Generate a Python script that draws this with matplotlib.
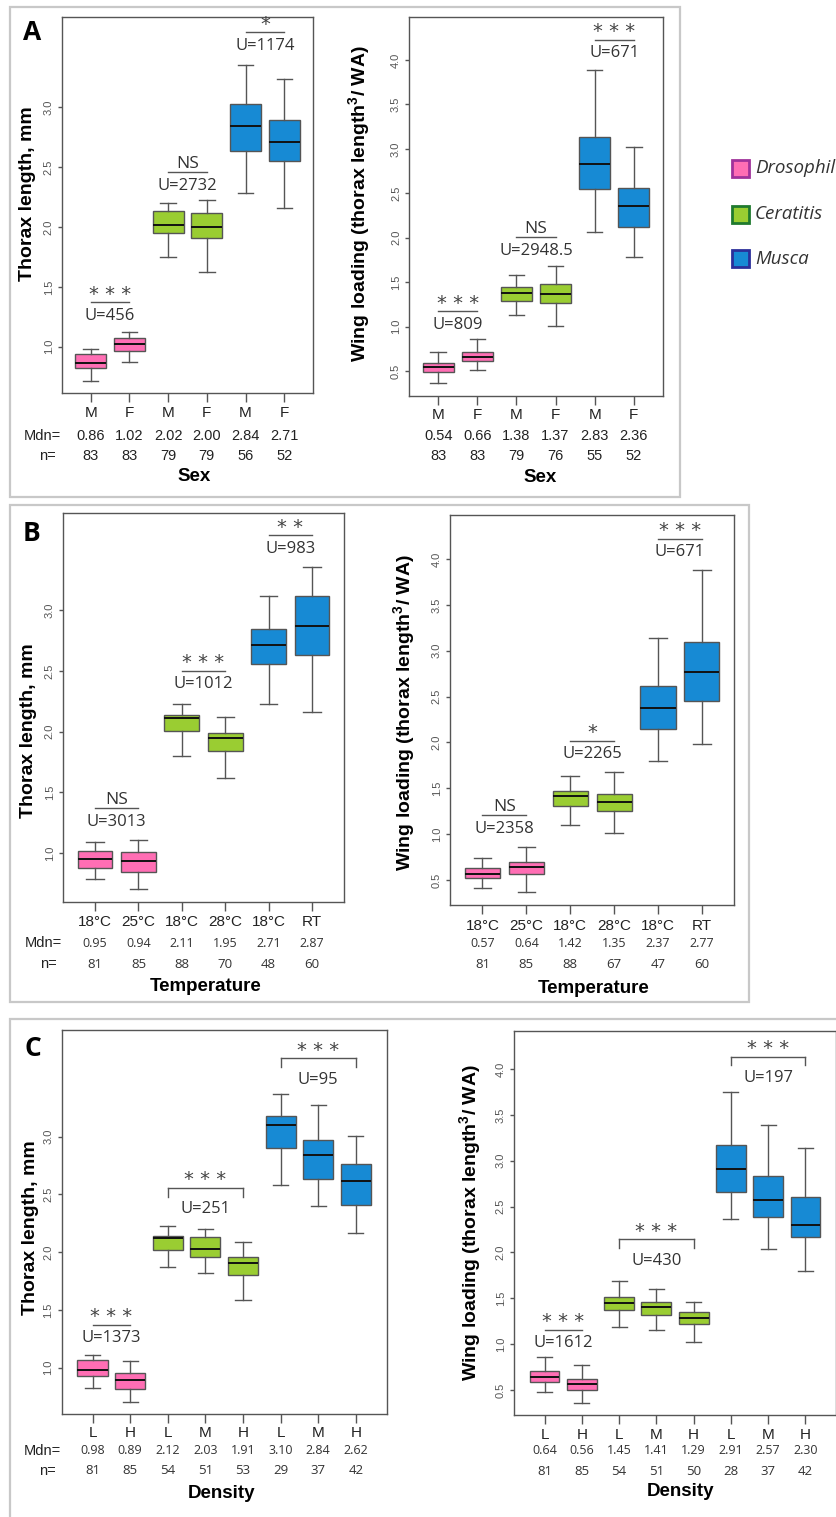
import matplotlib
matplotlib.use('Agg')
import matplotlib.pyplot as plt
from matplotlib.patches import Rectangle

plt.rcParams['font.family'] = ['Liberation Sans', 'DejaVu Sans']
plt.rcParams['mathtext.fontset'] = 'custom'
plt.rcParams['mathtext.rm'] = 'Liberation Sans'
plt.rcParams['mathtext.bf'] = 'Liberation Sans:bold'

W, H = 837, 1517

# colours
PINK, GREEN, BLUE = '#ff6eb4', '#9acd32', '#178ad4'
EDGE = '#555555'
SPECIES = ['Drosophila', 'Ceratitis', 'Musca']
SP_FILL = [PINK, GREEN, BLUE]
SP_EDGE = ['#a0329b', '#1f7a2e', '#2b2f9a']

# ---------------- data ----------------
# A: sex
sex_labels = ['M', 'F', 'M', 'F', 'M', 'F']
sex_groups = [0, 0, 1, 1, 2, 2]

A_tl_lo = [0.71, 0.875, 1.745, 1.62, 2.28, 2.16]
A_tl_q1 = [0.82, 0.967, 1.952, 1.911, 2.635, 2.551]
A_tl_med = [0.86, 1.02, 2.02, 2.00, 2.84, 2.71]
A_tl_q3 = [0.94, 1.07, 2.134, 2.114, 3.028, 2.897]
A_tl_hi = [0.978, 1.12, 2.198, 2.226, 3.353, 3.239]
A_tl_n = [83, 83, 79, 79, 56, 52]

A_wl_lo = [0.37, 0.513, 1.128, 1.011, 2.069, 1.787]
A_wl_q1 = [0.494, 0.617, 1.293, 1.263, 2.549, 2.125]
A_wl_med = [0.54, 0.66, 1.38, 1.37, 2.83, 2.36]
A_wl_q3 = [0.588, 0.719, 1.45, 1.477, 3.137, 2.564]
A_wl_hi = [0.719, 0.862, 1.582, 1.686, 3.888, 3.025]
A_wl_n = [83, 83, 79, 76, 55, 52]

# B: temperature
temp_labels = ['18°C', '25°C', '18°C', '28°C', '18°C', 'RT']
temp_groups = [0, 0, 1, 1, 2, 2]

B_tl_lo = [0.787, 0.705, 1.80, 1.617, 2.225, 2.162]
B_tl_q1 = [0.883, 0.845, 2.003, 1.844, 2.556, 2.63]
B_tl_med = [0.95, 0.94, 2.11, 1.95, 2.71, 2.87]
B_tl_q3 = [1.022, 1.009, 2.14, 1.992, 2.846, 3.115]
B_tl_hi = [1.096, 1.11, 2.225, 2.123, 3.118, 3.351]
B_tl_n = [81, 85, 88, 70, 48, 60]

B_wl_lo = [0.408, 0.371, 1.099, 1.015, 1.798, 1.98]
B_wl_q1 = [0.517, 0.564, 1.31, 1.255, 2.147, 2.453]
B_wl_med = [0.57, 0.64, 1.42, 1.35, 2.37, 2.77]
B_wl_q3 = [0.633, 0.699, 1.474, 1.438, 2.617, 3.09]
B_wl_hi = [0.736, 0.862, 1.638, 1.681, 3.144, 3.883]
B_wl_n = [81, 85, 88, 67, 47, 60]

# C: density
dens_labels = ['L', 'H', 'L', 'M', 'H', 'L', 'M', 'H']
dens_groups = [0, 0, 1, 1, 1, 2, 2, 2]

C_tl_lo = [0.822, 0.706, 1.875, 1.823, 1.586, 2.582, 2.40, 2.164]
C_tl_q1 = [0.931, 0.813, 2.022, 1.956, 1.80, 2.905, 2.631, 2.406]
C_tl_med = [0.98, 0.89, 2.12, 2.03, 1.91, 3.10, 2.84, 2.62]
C_tl_q3 = [1.067, 0.957, 2.14, 2.132, 1.956, 3.179, 2.971, 2.766]
C_tl_hi = [1.11, 1.058, 2.227, 2.201, 2.088, 3.367, 3.272, 3.009]
C_tl_n = [81, 85, 54, 51, 53, 29, 37, 42]

C_wl_lo = [0.474, 0.361, 1.187, 1.154, 1.02, 2.361, 2.034, 1.797]
C_wl_q1 = [0.583, 0.50, 1.372, 1.317, 1.216, 2.659, 2.383, 2.165]
C_wl_med = [0.64, 0.56, 1.45, 1.41, 1.29, 2.91, 2.57, 2.30]
C_wl_q3 = [0.71, 0.623, 1.51, 1.462, 1.353, 3.175, 2.833, 2.607]
C_wl_hi = [0.863, 0.772, 1.688, 1.604, 1.462, 3.753, 3.389, 3.135]
C_wl_n = [81, 85, 54, 51, 50, 28, 37, 42]

# Mann-Whitney tests: (from box, to box, stars, U, bar height, bracket)
A_tl_tests = [(1, 2, '* * *', 'U=456', 1.37, False),
              (3, 4, 'NS', 'U=2732', 2.457, False),
              (5, 6, '*', 'U=1174', 3.627, False)]
A_wl_tests = [(1, 2, '* * *', 'U=809', 1.17, False),
              (3, 4, 'NS', 'U=2948.5', 2.005, False),
              (5, 6, '* * *', 'U=671', 4.225, False)]
B_tl_tests = [(1, 2, 'NS', 'U=3013', 1.37, False),
              (3, 4, '* * *', 'U=1012', 2.501, False),
              (5, 6, '* *', 'U=983', 3.616, False)]
B_wl_tests = [(1, 2, 'NS', 'U=2358', 1.205, False),
              (3, 4, '*', 'U=2265', 2.016, False),
              (5, 6, '* * *', 'U=671', 4.22, False)]
C_tl_tests = [(1, 2, '* * *', 'U=1373', 1.372, False),
              (3, 5, '* * *', 'U=251', 2.556, True),
              (6, 8, '* * *', 'U=95', 3.679, True)]
C_wl_tests = [(1, 2, '* * *', 'U=1612', 1.154, False),
              (3, 5, '* * *', 'U=430', 2.146, True),
              (6, 8, '* * *', 'U=197', 4.134, True)]

THORAX = 'Thorax length, mm'
WING = r'Wing loading (thorax length$^{\mathbf{3}}$/ WA)'
TL_TICKS = [1.0, 1.5, 2.0, 2.5, 3.0]
WL_TICKS = [0.5, 1.0, 1.5, 2.0, 2.5, 3.0, 3.5, 4.0]


def frect(x0, y0, x1, y1):
    return [x0 / W, 1 - y1 / H, (x1 - x0) / W, (y1 - y0) / H]


def fpt(x, y):
    return x / W, 1 - y / H


fig = plt.figure(figsize=(W / 100, H / 100), dpi=100)

# panel frames
for x0, y0, x1, y1 in [(10, 7, 680, 497), (10, 505, 749, 1002), (10, 1019, 900, 1600)]:
    fig.patches.append(Rectangle(fpt(x0, y1), (x1 - x0) / W, (y1 - y0) / H,
                                 transform=fig.transFigure, fill=False,
                                 edgecolor='#c8c8c8', lw=1.6))


def under(ax, x, text, dy, **kw):
    ax.annotate(text, xy=(x, 0), xycoords=('data', 'axes fraction'),
                xytext=(0, -dy * 0.72), textcoords='offset points',
                ha='center', va='center', annotation_clip=False, **kw)


def panel(rect, ylim, yticks, labels, groups, lo, q1, med, q3, hi, nn,
          tests, rows, small_font, row_names):
    ax = fig.add_axes(frect(*rect))
    k = len(labels)
    pos = list(range(1, k + 1))
    stats = [dict(whislo=a, q1=b, med=c, q3=d, whishi=e, fliers=[])
             for a, b, c, d, e in zip(lo, q1, med, q3, hi)]
    bp = ax.bxp(stats, positions=pos, widths=0.8, capwidths=0.4,
                patch_artist=True, showfliers=False,
                boxprops=dict(edgecolor=EDGE, lw=1),
                whiskerprops=dict(color=EDGE, lw=1),
                capprops=dict(color=EDGE, lw=1),
                medianprops=dict(color='#111111', lw=1.4))
    for patch, g in zip(bp['boxes'], groups):
        patch.set_facecolor(SP_FILL[g])
    ax.set_xlim(0.5 - 0.04 * k, k + 0.5 + 0.04 * k)
    ax.set_ylim(*ylim)
    ax.set_yticks(yticks)
    ax.set_yticklabels([f'{t:.1f}' for t in yticks], rotation=90,
                       va='center', fontsize=8, color='#555555')
    ax.set_xticks(pos)
    ax.set_xticklabels([])
    ax.tick_params(axis='x', length=6.5, width=1, color=EDGE)
    ax.tick_params(axis='y', length=3, width=1, color=EDGE, pad=3)
    for s in ax.spines.values():
        s.set_color(EDGE)
        s.set_linewidth(1)

    # significance bars
    ppu = (rect[3] - rect[1]) / (ylim[1] - ylim[0])
    for x1, x2, stars, utxt, y, bracket in tests:
        ax.plot([x1, x2], [y, y], color=EDGE, lw=1)
        if bracket:
            d = 8.7 / ppu
            ax.plot([x1, x1], [y, y - d], color=EDGE, lw=1)
            ax.plot([x2, x2], [y, y - d], color=EDGE, lw=1)
        xc = (x1 + x2) / 2
        if stars == 'NS':
            ax.annotate(stars, xy=(xc, y), xytext=(0, 4.0 * 0.72),
                        textcoords='offset points', ha='center', va='baseline',
                        fontsize=12.5, family='Open Sans', color='#333333')
        else:
            ax.annotate(stars, xy=(xc, y), xytext=(0, 2.5 * 0.72),
                        textcoords='offset points', ha='center', va='baseline',
                        fontsize=14, family='DejaVu Sans', color='#444444')
        ax.annotate(utxt, xy=(xc, y),
                    xytext=(0, -(25.5 if bracket else 17.5) * 0.72),
                    textcoords='offset points', ha='center', va='baseline',
                    fontsize=12, family='Open Sans', color='#333333')

    # labels under the axis
    d_cat, d_mdn, d_n = rows
    for p, lab, m, n in zip(pos, labels, med, nn):
        under(ax, p, lab, d_cat, fontsize=11, color='#222222')
        if small_font:
            under(ax, p, f'{m:.2f}', d_mdn, fontsize=9, family='Open Sans', color='#333333')
            under(ax, p, str(n), d_n, fontsize=9.5, family='Open Sans', color='#333333')
        else:
            under(ax, p, f'{m:.2f}', d_mdn, fontsize=10.5, color='#222222')
            under(ax, p, str(n), d_n, fontsize=10.5, color='#222222')
    if row_names:
        for txt, d, dx in [('Mdn=', d_mdn, 1), ('n=', d_n, 6)]:
            ax.annotate(txt, xy=(0, 0), xycoords='axes fraction',
                        xytext=(-dx * 0.72, -d * 0.72), textcoords='offset points',
                        ha='right', va='center', fontsize=10.5, color='#222222',
                        annotation_clip=False)
    return ax


# ---------------- panel A ----------------
panel((62, 17, 313, 393), (0.613, 3.754), TL_TICKS, sex_labels, sex_groups,
      A_tl_lo, A_tl_q1, A_tl_med, A_tl_q3, A_tl_hi, A_tl_n, A_tl_tests,
      (20, 42.7, 63), False, True)
panel((409.3, 17.3, 662.7, 396), (0.219, 4.48), WL_TICKS, sex_labels, sex_groups,
      A_wl_lo, A_wl_q1, A_wl_med, A_wl_q3, A_wl_hi, A_wl_n, A_wl_tests,
      (19, 39.7, 60), False, False)

# ---------------- panel B ----------------
panel((63, 513.3, 344, 901.7), (0.602, 3.795), TL_TICKS, temp_labels, temp_groups,
      B_tl_lo, B_tl_q1, B_tl_med, B_tl_q3, B_tl_hi, B_tl_n, B_tl_tests,
      (20, 41.7, 62.7), True, True)
panel((450, 515, 734.3, 905), (0.227, 4.48), WL_TICKS, temp_labels, temp_groups,
      B_wl_lo, B_wl_q1, B_wl_med, B_wl_q3, B_wl_hi, B_wl_n, B_wl_tests,
      (21, 38.3, 59.3), True, False)

# ---------------- panel C ----------------
panel((61.7, 1030, 386.7, 1414), (0.599, 3.924), TL_TICKS, dens_labels, dens_groups,
      C_tl_lo, C_tl_q1, C_tl_med, C_tl_q3, C_tl_hi, C_tl_n, C_tl_tests,
      (18.7, 36.7, 57), True, True)
panel((514, 1030.7, 836, 1415), (0.227, 4.418), WL_TICKS, dens_labels, dens_groups,
      C_wl_lo, C_wl_q1, C_wl_med, C_wl_q3, C_wl_hi, C_wl_n, C_wl_tests,
      (20, 36, 56.7), True, False)

# axis titles
for txt, x, y in [(THORAX, 27.5, 194), (WING, 360, 204),
                  (THORAX, 28.5, 731), (WING, 405, 713),
                  (THORAX, 31, 1227.5), (WING, 471, 1223)]:
    fig.text(*fpt(x, y), txt, rotation=90, ha='center', va='center',
             fontsize=14, fontweight='bold')
for txt, x, y in [('Sex', 193.7, 476.7), ('Sex', 539.7, 477.3),
                  ('Temperature', 205.8, 986.7), ('Temperature', 593.8, 988.3),
                  ('Density', 221.7, 1493.3), ('Density', 680.8, 1491.7)]:
    fig.text(*fpt(x, y), txt, ha='center', va='center', fontsize=13.5,
             fontweight='bold')

# panel letters
for txt, x, y in [('A', 31.7, 33), ('B', 31.7, 533.3), ('C', 32.7, 1048.3)]:
    fig.text(*fpt(x, y), txt, ha='center', va='center', fontsize=19,
             fontweight='bold', family='Open Sans')

# species legend (the name of the first one runs off the right edge, as in the source)
for i, (name, y) in enumerate(zip(SPECIES, [168, 214, 258.5])):
    fig.patches.append(Rectangle(fpt(732, y + 8.5), 17 / W, 17 / H,
                                 transform=fig.transFigure, facecolor=SP_FILL[i],
                                 edgecolor=SP_EDGE[i], lw=2))
    fig.text(*fpt(755, y), name, ha='left', va='center', fontsize=13.5,
             style='italic', family='Open Sans', color='#333333')

fig.savefig('out.png', dpi=100)
